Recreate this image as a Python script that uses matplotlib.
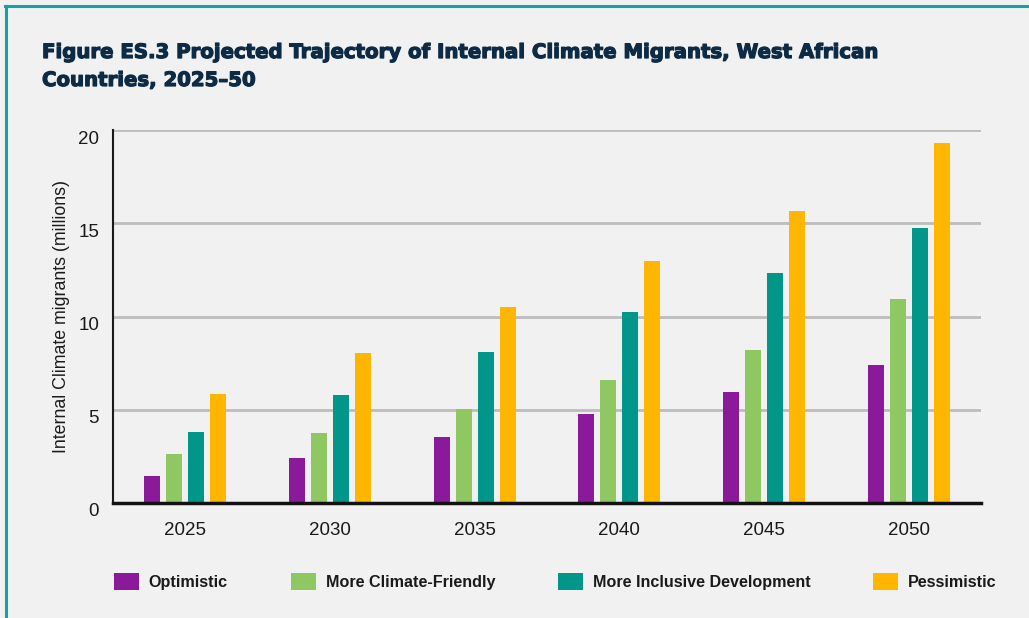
import numpy as np
import matplotlib
matplotlib.use("Agg")
import matplotlib.pyplot as plt
import matplotlib.transforms as mtransforms
import matplotlib.patheffects as pe
from matplotlib.lines import Line2D

years = ["2025", "2030", "2035", "2040", "2045", "2050"]
scenarios = ["Optimistic", "More Climate-Friendly", "More Inclusive Development", "Pessimistic"]
optimistic = [1.46, 2.43, 3.55, 4.78, 5.96, 7.4]
climate_friendly = [2.64, 3.77, 5.05, 6.6, 8.2, 10.95]
inclusive = [3.82, 5.8, 8.1, 10.25, 12.33, 14.75]
pessimistic = [5.85, 8.05, 10.5, 13.0, 15.65, 19.3]
colors = ["#8b1a9a", "#8fc862", "#00968a", "#ffb600"]
yticks = [0, 5, 10, 15, 20]

bg = "#f1f1f1"
W, H = 1029, 618

fig = plt.figure(figsize=(W / 100, H / 100), dpi=100)
fig.patch.set_facecolor(bg)

# teal frame lines (top and left)
fig.add_artist(Line2D([5 / W, 1], [1 - 6 / H, 1 - 6 / H], transform=fig.transFigure,
                      color="#14a3a3", linewidth=2.2))
fig.add_artist(Line2D([5.5 / W, 5.5 / W], [0, 1 - 6 / H], transform=fig.transFigure,
                      color="#14a3a3", linewidth=2.2))

title_color = "#0d2b45"
title_kw = dict(fontsize=14.2, fontweight="bold", color=title_color, family="DejaVu Sans", va="baseline",
                path_effects=[pe.withStroke(linewidth=0.9, foreground=title_color)])
fig.text(42 / W, 1 - 58 / H, "Figure ES.3 Projected Trajectory of Internal Climate Migrants, West African", **title_kw)
fig.text(42 / W, 1 - 86 / H, "Countries, 2025\u201350", **title_kw)

ax = fig.add_axes([113 / W, 1 - 503 / H, (981 - 113) / W, (503 - 130) / H])
ax.set_facecolor(bg)

x = np.arange(len(years))
series = [optimistic, climate_friendly, inclusive, pessimistic]
step = 0.152
for i, (vals, name, c) in enumerate(zip(series, scenarios, colors)):
    ax.bar(x + (i - 1.5) * step, vals, width=0.11, color=c, label=name, zorder=3)

ax.set_xlim(-0.5, len(years) - 0.5)
ax.set_ylim(0, 20)
ax.set_yticks(yticks)
ax.set_xticks(x)
ax.set_xticklabels(years)
ax.tick_params(axis="both", length=0, labelsize=13.5, colors="#1a1a1a")
ax.tick_params(axis="y", pad=10)
ax.tick_params(axis="x", pad=14)
shift = mtransforms.ScaledTranslation(0, -7 / 100, fig.dpi_scale_trans)
for lab in ax.get_yticklabels():
    lab.set_transform(lab.get_transform() + shift)
for lab in ax.get_xticklabels() + ax.get_yticklabels():
    lab.set_family("Liberation Sans")
ax.yaxis.grid(True, color="#bdbdbd", linewidth=2, zorder=0)
ax.set_axisbelow(True)
for s in ["top", "right"]:
    ax.spines[s].set_visible(False)
ax.spines["left"].set_linewidth(1.5)
ax.spines["left"].set_color("#1a1a1a")
ax.spines["bottom"].set_linewidth(2.5)
ax.spines["bottom"].set_color("#111111")
ax.spines["bottom"].set_zorder(4)
ax.set_ylabel("Internal Climate migrants (millions)", fontsize=12.8, family="Liberation Sans",
              color="#1a1a1a", labelpad=6)

handles, labels = ax.get_legend_handles_labels()
leg = fig.legend(handles, labels, loc="center left", bbox_to_anchor=(114 / W, 1 - 581.5 / H),
                 ncol=4, frameon=False, borderpad=0, borderaxespad=0,
                 handlelength=1.56, handleheight=1.3, handletextpad=0.6,
                 columnspacing=3.9, prop={"family": "Liberation Sans", "weight": "bold", "size": 11.6})
for t in leg.get_texts():
    t.set_color("#1a1a1a")

fig.savefig("out.png", dpi=100, facecolor=bg)
